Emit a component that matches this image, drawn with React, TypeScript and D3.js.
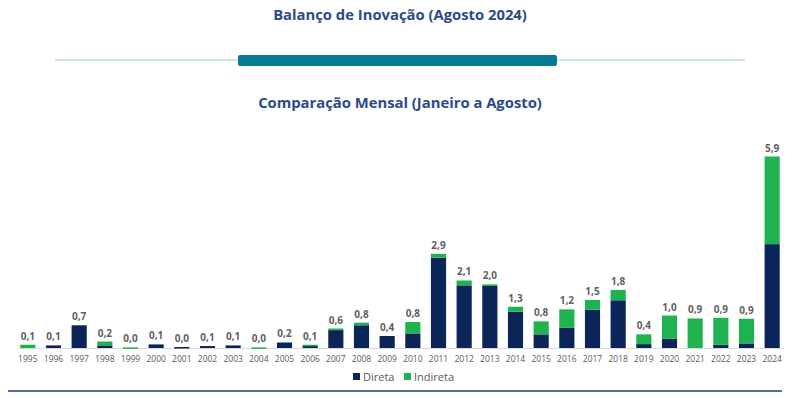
import { scaleBand, scaleLinear, stack, format } from 'd3'

const years = [
  '1995', '1996', '1997', '1998', '1999', '2000', '2001', '2002', '2003', '2004',
  '2005', '2006', '2007', '2008', '2009', '2010', '2011', '2012', '2013', '2014',
  '2015', '2016', '2017', '2018', '2019', '2020', '2021', '2022', '2023', '2024',
]
const direta = [
  0, 0.08, 0.7, 0.08, 0, 0.11, 0.03, 0.06, 0.08, 0,
  0.17, 0.07, 0.55, 0.7, 0.37, 0.45, 2.78, 1.93, 1.91, 1.12,
  0.42, 0.62, 1.18, 1.47, 0.12, 0.28, 0, 0.1, 0.14, 3.2,
]
const indireta = [
  0.1, 0, 0, 0.12, 0.02, 0, 0, 0, 0, 0.02,
  0, 0.03, 0.05, 0.08, 0, 0.35, 0.12, 0.15, 0.05, 0.15,
  0.4, 0.57, 0.3, 0.32, 0.3, 0.72, 0.91, 0.83, 0.76, 2.7,
]
const seriesNames = ['Direta', 'Indireta']
const colors = ['#0b2559', '#1fb350']

const W = 800
const H = 398
const font = "'Open Sans', sans-serif"
const fmt = (v: number) => format('.1f')(v).replace('.', ',')

export default function App() {
  const rows = years.map((y, i) => ({ year: y, Direta: direta[i], Indireta: indireta[i] }))
  const layers = stack<any>().keys(seriesNames)(rows)

  const x = scaleBand().domain(years).range([15, 785]).paddingInner(0.41).paddingOuter(0.205)
  const y = scaleLinear().domain([0, 5.9]).range([348, 156.5])

  return (
    <svg width={W} height={H} style={{ position: 'absolute', left: 0, top: 0, display: 'block' }}>
      <rect width={W} height={H} fill="#ffffff" />
      <text x={400} y={20} textAnchor="middle" fontFamily={font} fontWeight="bold" fontSize={14.8} fill="#2b4a8b">
        Balanço de Inovação (Agosto 2024)
      </text>
      <line x1={55} x2={745} y1={60} y2={60} stroke="#c9e7ea" strokeWidth={2} />
      <rect x={238} y={55} width={319} height={11} rx={2} fill="#077b96" />
      <text x={400} y={108} textAnchor="middle" fontFamily={font} fontWeight="bold" fontSize={14.8} fill="#2b4a8b">
        Comparação Mensal (Janeiro a Agosto)
      </text>

      <line x1={18} x2={783} y1={348.5} y2={348.5} stroke="#d9d9d9" strokeWidth={1} />

      {layers.map((layer, si) => (
        <g key={layer.key} fill={colors[si]}>
          {layer.map((d, i) => {
            const h = y(d[0]) - y(d[1])
            if (h <= 0) return null
            return <rect key={i} x={x(years[i])} y={y(d[1])} width={x.bandwidth()} height={Math.max(h, 1.5)} />
          })}
        </g>
      ))}

      {years.map((yr, i) => {
        const total = direta[i] + indireta[i]
        return (
          <text key={yr} x={(x(yr) ?? 0) + x.bandwidth() / 2} y={y(total) - 5} textAnchor="middle"
            fontFamily={font} fontWeight="bold" fontSize={10} fill="#5f5f5f">
            {fmt(total)}
          </text>
        )
      })}

      {years.map((yr) => (
        <text key={yr} x={(x(yr) ?? 0) + x.bandwidth() / 2} y={362} textAnchor="middle"
          fontFamily={font} fontSize={8.5} fill="#595959">
          {yr}
        </text>
      ))}

      <g fontFamily={font} fontSize={11} fill="#595959">
        <rect x={353} y={373} width={7} height={7} fill={colors[0]} />
        <text x={363} y={380.5}>{seriesNames[0]}</text>
        <rect x={404} y={373} width={7} height={7} fill={colors[1]} />
        <text x={414} y={380.5}>{seriesNames[1]}</text>
      </g>

      <line x1={8} x2={782} y1={391} y2={391} stroke="#5a6d9e" strokeWidth={2} />
    </svg>
  )
}
